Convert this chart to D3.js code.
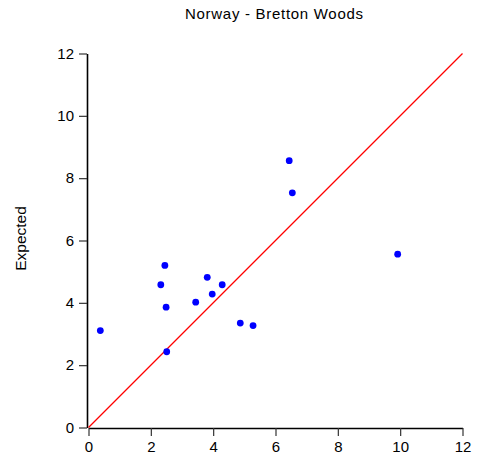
<!DOCTYPE html>
<html>
<head>
<meta charset="utf-8">
<script src="https://cdn.jsdelivr.net/npm/d3@7"></script>
<style>
  html, body { margin: 0; padding: 0; background: #fff; }
  svg { display: block; font-family: "Liberation Sans", Arial, sans-serif; }
</style>
</head>
<body>
<svg id="chart" width="481" height="463"></svg>
<script>
// Observed vs expected values
const observed = [0.38, 2.45, 2.32, 2.49, 2.51, 3.44, 3.81, 3.97, 4.29, 4.87, 5.28, 6.44, 6.54, 9.92];
const expected = [3.11, 5.20, 4.58, 3.86, 2.43, 4.02, 4.82, 4.28, 4.58, 3.35, 3.27, 8.56, 7.53, 5.56];
const tickValues = [0, 2, 4, 6, 8, 10, 12];
const titleText = "Norway - Bretton Woods";
const yLabelText = "Expected";

const svg = d3.select("#chart");
const x = d3.scaleLinear().domain([0, 12]).range([88.5, 462.5]);
const y = d3.scaleLinear().domain([0, 12]).range([427.5, 53.5]);

// Title
svg.append("text")
  .attr("x", 274).attr("y", 19)
  .attr("text-anchor", "middle")
  .attr("font-size", 15)
  .attr("textLength", 178)
  .attr("lengthAdjust", "spacing")
  .attr("fill", "#000")
  .text(titleText);

// Y axis label
svg.append("text")
  .attr("transform", "translate(26,238.5) rotate(-90)")
  .attr("text-anchor", "middle")
  .attr("font-size", 15.5)
  .attr("fill", "#000")
  .text(yLabelText);

// Axes
const xAxis = d3.axisBottom(x).tickValues(tickValues).tickSize(8).tickPadding(5).tickSizeOuter(0);
const yAxis = d3.axisLeft(y).tickValues(tickValues).tickSize(8).tickPadding(5).tickSizeOuter(0);

const gx = svg.append("g").attr("transform", "translate(0,428)").call(xAxis);
const gy = svg.append("g").attr("transform", "translate(87,0)").call(yAxis);

[gx, gy].forEach(g => {
  g.select(".domain").attr("stroke", "#000").attr("stroke-width", 1.6);
  g.selectAll(".tick line").attr("stroke", "#333").attr("stroke-width", 1.2);
  g.selectAll(".tick text").attr("font-size", 15).attr("fill", "#000")
    .attr("font-family", "'Liberation Sans', Arial, sans-serif");
});

// Identity line
svg.append("path")
  .attr("d", d3.line()([[x(0), y(0)], [x(12), y(12)]]))
  .style("stroke", "#ff0000")
  .style("stroke-width", "1.3px")
  .style("fill", "none");

// Points
svg.append("g").selectAll("circle")
  .data(observed.map((v, i) => [v, expected[i]]))
  .join("circle")
  .attr("cx", d => x(d[0]))
  .attr("cy", d => y(d[1]))
  .attr("r", 3.4)
  .attr("fill", "#0000ff");
</script>
</body>
</html>
